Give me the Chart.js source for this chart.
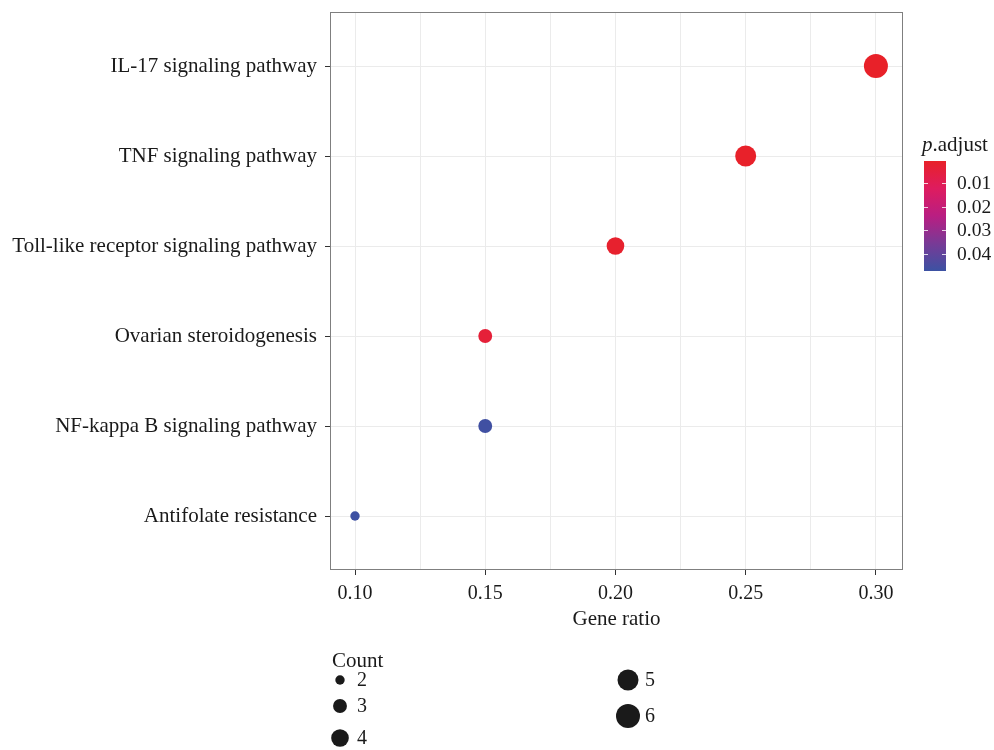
<!DOCTYPE html>
<html>
<head>
<meta charset="utf-8">
<script src="https://cdn.jsdelivr.net/npm/chart.js@4.4.0/dist/chart.umd.min.js"></script>
<style>
  body { margin: 0; background: #fff; }
  #wrap { width: 994px; height: 750px; }
</style>
</head>
<body>
<div id="wrap"><canvas id="chartDot" width="994" height="750"></canvas></div>
<script>
var vias = [
    'IL-17 signaling pathway',
    'TNF signaling pathway',
    'Toll-like receptor signaling pathway',
    'Ovarian steroidogenesis',
    'NF-kappa B signaling pathway',
    'Antifolate resistance'
];
var razaoGenica = [0.30, 0.25, 0.20, 0.15, 0.15, 0.10];
var contagem = [6, 5, 4, 3, 3, 2];
var pAjustado = [0.0006, 0.0009, 0.0016, 0.004, 0.0465, 0.047];

var ticksX = [0.10, 0.125, 0.15, 0.175, 0.20, 0.225, 0.25, 0.275, 0.30];
var rotulosX = ['0.10', '', '0.15', '', '0.20', '', '0.25', '', '0.30'];
var limitesX = [0.0904, 0.3104];

var limitesP = [0.0006, 0.0473];
var ticksP = [0.01, 0.02, 0.03, 0.04];
var legendaContagem = [2, 3, 4, 5, 6];

var fonte = "'Liberation Serif', 'DejaVu Serif', serif";
var corTexto = '#1a1a1a';
var corGrade = '#ebebeb';

// gradiente vermelho -> magenta -> azul (p baixo = vermelho)
var paradas = [
    [0.00, [232, 33, 41]],
    [0.25, [222, 28, 95]],
    [0.50, [185, 30, 130]],
    [0.75, [120, 58, 150]],
    [1.00, [60, 82, 163]]
];

function corP(p) {
    var t = (p - limitesP[0]) / (limitesP[1] - limitesP[0]);
    t = Math.max(0, Math.min(1, t));
    for (var i = 1; i < paradas.length; i++) {
        if (t <= paradas[i][0]) {
            var a = paradas[i - 1], b = paradas[i];
            var f = (t - a[0]) / (b[0] - a[0]);
            var c = a[1].map(function (v, k) { return Math.round(v + (b[1][k] - v) * f); });
            return 'rgb(' + c.join(',') + ')';
        }
    }
    return 'rgb(' + paradas[paradas.length - 1][1].join(',') + ')';
}

// escala de tamanho: raio reescalado sobre sqrt(contagem)
function raio(n) {
    var a = Math.sqrt(2), b = Math.sqrt(6);
    return 4.7 + (Math.sqrt(n) - a) / (b - a) * 7.3;
}

const pontos = razaoGenica.map(function (x, i) {
    return { x: x, y: i };
});

const pluginMoldura = {
    id: 'moldura',
    beforeDatasetsDraw(chart) {
        var ctx = chart.ctx, a = chart.chartArea;
        ctx.save();
        ctx.strokeStyle = '#7f7f7f';
        ctx.lineWidth = 1;
        ctx.strokeRect(a.left + 0.5, a.top + 0.5, a.right - a.left - 1, a.bottom - a.top - 1);
        ctx.restore();
    }
};

const pluginLegendas = {
    id: 'legendas',
    afterDraw(chart) {
        var ctx = chart.ctx;
        ctx.save();
        ctx.fillStyle = corTexto;
        ctx.textBaseline = 'alphabetic';

        // barra de cor p.adjust
        var bx = 924, by = 161, bw = 22, bh = 110;
        ctx.font = 'italic 21px ' + fonte;
        ctx.fillText('p', 922, 151);
        var wp = ctx.measureText('p').width;
        ctx.font = '21px ' + fonte;
        ctx.fillText('.adjust', 922 + wp, 151);

        var grad = ctx.createLinearGradient(0, by, 0, by + bh);
        paradas.forEach(function (s) {
            grad.addColorStop(s[0], 'rgb(' + s[1].join(',') + ')');
        });
        ctx.fillStyle = grad;
        ctx.fillRect(bx, by, bw, bh);

        ctx.strokeStyle = 'rgba(255,255,255,0.8)';
        ctx.lineWidth = 1;
        ctx.fillStyle = corTexto;
        ctx.font = '19.5px ' + fonte;
        ctx.textBaseline = 'middle';
        ticksP.forEach(function (v) {
            var y = by + (v - limitesP[0]) / (limitesP[1] - limitesP[0]) * bh;
            y = Math.round(y) + 0.5;
            ctx.beginPath();
            ctx.moveTo(bx, y); ctx.lineTo(bx + 4, y);
            ctx.moveTo(bx + bw - 4, y); ctx.lineTo(bx + bw, y);
            ctx.stroke();
            ctx.fillText(v.toFixed(2), 957, y);
        });

        // legenda Count
        ctx.textBaseline = 'alphabetic';
        ctx.font = '21px ' + fonte;
        ctx.fillText('Count', 332, 667);
        var posicoes = [[340, 680], [340, 706], [340, 738], [628, 680], [628, 716]];
        ctx.font = '20px ' + fonte;
        ctx.textBaseline = 'middle';
        legendaContagem.forEach(function (n, i) {
            var p = posicoes[i];
            ctx.fillStyle = '#1a1a1a';
            ctx.beginPath();
            ctx.arc(p[0], p[1], raio(n), 0, Math.PI * 2);
            ctx.fill();
            ctx.fillStyle = corTexto;
            ctx.fillText(String(n), p[0] + 17, p[1] + 1);
        });
        ctx.restore();
    }
};

const configDot = {
    type: 'scatter',
    data: {
        datasets: [{
            label: 'Gene ratio',
            data: pontos,
            backgroundColor: pAjustado.map(corP),
            borderWidth: 0,
            pointRadius: contagem.map(raio),
            pointHoverRadius: contagem.map(raio)
        }]
    },
    options: {
        responsive: false,
        animation: false,
        devicePixelRatio: 1,
        layout: { padding: { left: 0, top: 0, right: 91, bottom: 120 } },
        plugins: {
            legend: { display: false },
            tooltip: { enabled: false }
        },
        scales: {
            x: {
                type: 'linear',
                min: limitesX[0],
                max: limitesX[1],
                afterBuildTicks: function (axis) {
                    axis.ticks = ticksX.map(function (v) { return { value: v }; });
                },
                afterFit: function (axis) {
                    axis.height = 60;
                    axis.paddingLeft = 0;
                    axis.paddingRight = 0;
                },
                border: { display: false },
                grid: {
                    color: corGrade,
                    lineWidth: 1,
                    tickLength: 5,
                    tickColor: function (ctx) {
                        return rotulosX[ctx.index] ? '#333' : 'rgba(0,0,0,0)';
                    }
                },
                ticks: {
                    autoSkip: false,
                    maxRotation: 0,
                    padding: 7,
                    color: corTexto,
                    font: { family: fonte, size: 20 },
                    callback: function (v, i) { return rotulosX[i]; }
                },
                title: {
                    display: true,
                    text: 'Gene ratio',
                    color: corTexto,
                    font: { family: fonte, size: 21 },
                    padding: { top: 0, bottom: -2 }
                }
            },
            y: {
                type: 'linear',
                reverse: true,
                min: -0.6,
                max: vias.length - 0.4,
                afterBuildTicks: function (axis) {
                    axis.ticks = vias.map(function (v, i) { return { value: i }; });
                },
                afterFit: function (axis) {
                    axis.width = 330;
                    axis.paddingTop = 10;
                    axis.paddingBottom = 0;
                },
                border: { display: false },
                grid: {
                    color: corGrade,
                    lineWidth: 1,
                    tickLength: 5,
                    tickColor: '#333'
                },
                ticks: {
                    autoSkip: false,
                    padding: 8,
                    color: corTexto,
                    font: { family: fonte, size: 21 },
                    callback: function (v) { return vias[v]; }
                }
            }
        }
    },
    plugins: [pluginMoldura, pluginLegendas]
};

const chartDot = new Chart(
    document.getElementById('chartDot'),
    configDot
);
</script>
</body>
</html>
